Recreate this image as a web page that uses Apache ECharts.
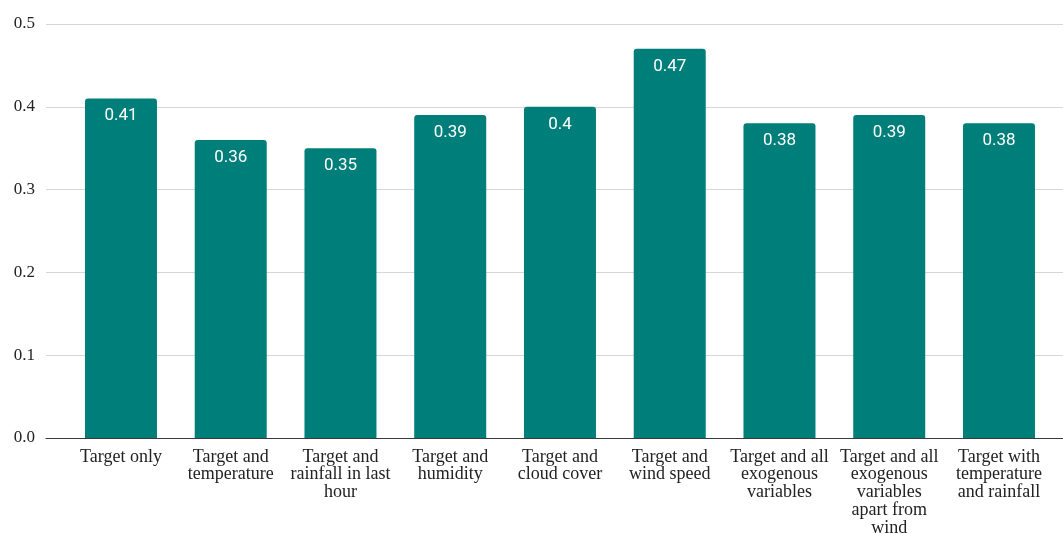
<!DOCTYPE html>
<html>
<head>
<meta charset="utf-8">
<script src="https://cdn.jsdelivr.net/npm/echarts@6/dist/echarts.min.js"></script>
<style>html,body{margin:0;padding:0;background:#fff}#c{width:1063px;height:534px}</style>
</head>
<body>
<div id="c"></div>
<script>
const categories = [
  "Target only",
  "Target and\ntemperature",
  "Target and\nrainfall in last\nhour",
  "Target and\nhumidity",
  "Target and\ncloud cover",
  "Target and\nwind speed",
  "Target and all\nexogenous\nvariables",
  "Target and all\nexogenous\nvariables\napart from\nwind",
  "Target with\ntemperature\nand rainfall"
];
const values = [0.41, 0.36, 0.35, 0.39, 0.4, 0.47, 0.38, 0.39, 0.38];
const yTicks = { min: 0, max: 0.5, interval: 0.1 };

const chart = echarts.init(document.getElementById('c'), null, { renderer: 'canvas' });
const serif = '"Liberation Serif", "Times New Roman", serif';
chart.setOption({
  animation: false,
  backgroundColor: '#ffffff',
  grid: [
    { left: 46, right: 0, top: 24, bottom: 96, containLabel: false, outerBoundsMode: 'none' },
    { left: 66.1, right: 9.15, top: 24, bottom: 96, containLabel: false, outerBoundsMode: 'none' }
  ],
  xAxis: [
    {
      gridIndex: 0, type: 'category', data: [''], z: 10,
      axisLine: { show: true, lineStyle: { color: '#3a3a3a', width: 1.2 } },
      axisTick: { show: false }, axisLabel: { show: false }, splitLine: { show: false }
    },
    {
      gridIndex: 1, type: 'category', data: categories,
      axisLine: { show: false }, axisTick: { show: false },
      axisLabel: {
        interval: 0, margin: 10,
        fontFamily: serif, fontSize: 18, lineHeight: 17.8, color: '#222',
        align: 'center', verticalAlign: 'top'
      }
    }
  ],
  yAxis: [
    {
      gridIndex: 0, type: 'value', min: yTicks.min, max: yTicks.max, interval: yTicks.interval,
      axisLine: { show: false }, axisTick: { show: false },
      axisLabel: {
        margin: 11, fontFamily: serif, fontSize: 17, color: '#222',
        formatter: v => v.toFixed(1)
      },
      splitLine: { show: true, lineStyle: { color: '#d6d6d6', width: 1.2 } }
    },
    {
      gridIndex: 1, type: 'value', min: yTicks.min, max: yTicks.max, interval: yTicks.interval,
      show: false, splitLine: { show: false }
    }
  ],
  series: [
    {
      type: 'bar', xAxisIndex: 1, yAxisIndex: 1,
      data: values, barWidth: 72,
      itemStyle: { color: '#007f7a', borderRadius: [3, 3, 0, 0] },
      label: {
        show: true, position: 'insideTop', distance: 9,
        fontFamily: 'Roboto, "Noto Sans", sans-serif', fontSize: 17, color: '#ffffff',
        formatter: p => String(p.value)
      }
    }
  ]
});
</script>
</body>
</html>
